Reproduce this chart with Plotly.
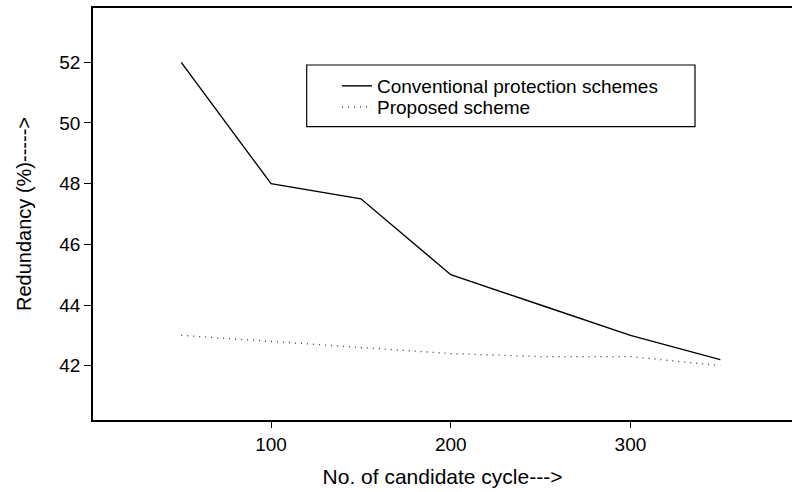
import plotly.graph_objects as go

cycles = [50, 100, 150, 200, 250, 300, 350]
conventional = [52.0, 48.0, 47.5, 45.0, 44.0, 43.0, 42.2]
proposed = [43.0, 42.8, 42.6, 42.4, 42.3, 42.3, 42.0]
x_ticks = [100, 200, 300]
y_ticks = [42, 44, 46, 48, 50, 52]

FONT = "Liberation Sans, Arial, Helvetica, sans-serif"

fig = go.Figure()
fig.add_trace(go.Scatter(x=cycles, y=conventional, mode="lines",
                         name="Conventional protection schemes",
                         legend="legend",
                         line=dict(color="black", width=1.4)))
fig.add_trace(go.Scatter(x=cycles, y=proposed, mode="lines",
                         name="Proposed scheme",
                         legend="legend2",
                         line=dict(color="#333333", width=1.3, dash="1px,5px")))

L, T, B = 93, 8, 72
W, H = 792, 492
pw, ph = W - L, H - T - B

def px2paper(x, y):
    return (x - L) / pw, (H - B - y) / ph

lx0, ly0 = px2paper(306.7, 65)
lx1, ly1 = px2paper(695, 126.7)
tx1, ty1 = px2paper(337, 86)
tx2, ty2 = px2paper(337, 107)

fig.add_shape(type="rect", xref="paper", yref="paper",
              x0=lx0, y0=ly1, x1=lx1, y1=ly0,
              line=dict(color="black", width=1.2), fillcolor="rgba(0,0,0,0)")

leg_common = dict(xanchor="left", yanchor="middle",
                  bgcolor="rgba(0,0,0,0)", borderwidth=0,
                  font=dict(size=19, family=FONT), tracegroupgap=0)

fig.update_layout(
    width=W, height=H,
    margin=dict(l=L, r=0, t=T, b=B),
    paper_bgcolor="white", plot_bgcolor="white",
    font=dict(family=FONT, size=19, color="black"),
    showlegend=True,
    legend=dict(x=tx1, y=ty1, **leg_common),
    legend2=dict(x=tx2, y=ty2, **leg_common),
    xaxis=dict(range=[0.9, 389.9], tickvals=x_ticks, ticks="outside",
               ticklen=6, tickwidth=1.2, tickcolor="black",
               tickfont=dict(size=19),
               showline=True, linecolor="black", linewidth=1.5, mirror=True,
               showgrid=False, zeroline=False,
               title=dict(text="No. of candidate cycle--->", standoff=16,
                          font=dict(size=21))),
    yaxis=dict(range=[40.21, 53.79], tickvals=y_ticks, ticks="outside",
               ticklen=7, tickwidth=1.2, tickcolor="black",
               tickfont=dict(size=19),
               showline=True, linecolor="black", linewidth=1.5, mirror=False,
               showgrid=False, zeroline=False,
               title=dict(text="Redundancy (%)----->", standoff=22,
                          font=dict(size=20))),
)

fig.write_html("out.html")
